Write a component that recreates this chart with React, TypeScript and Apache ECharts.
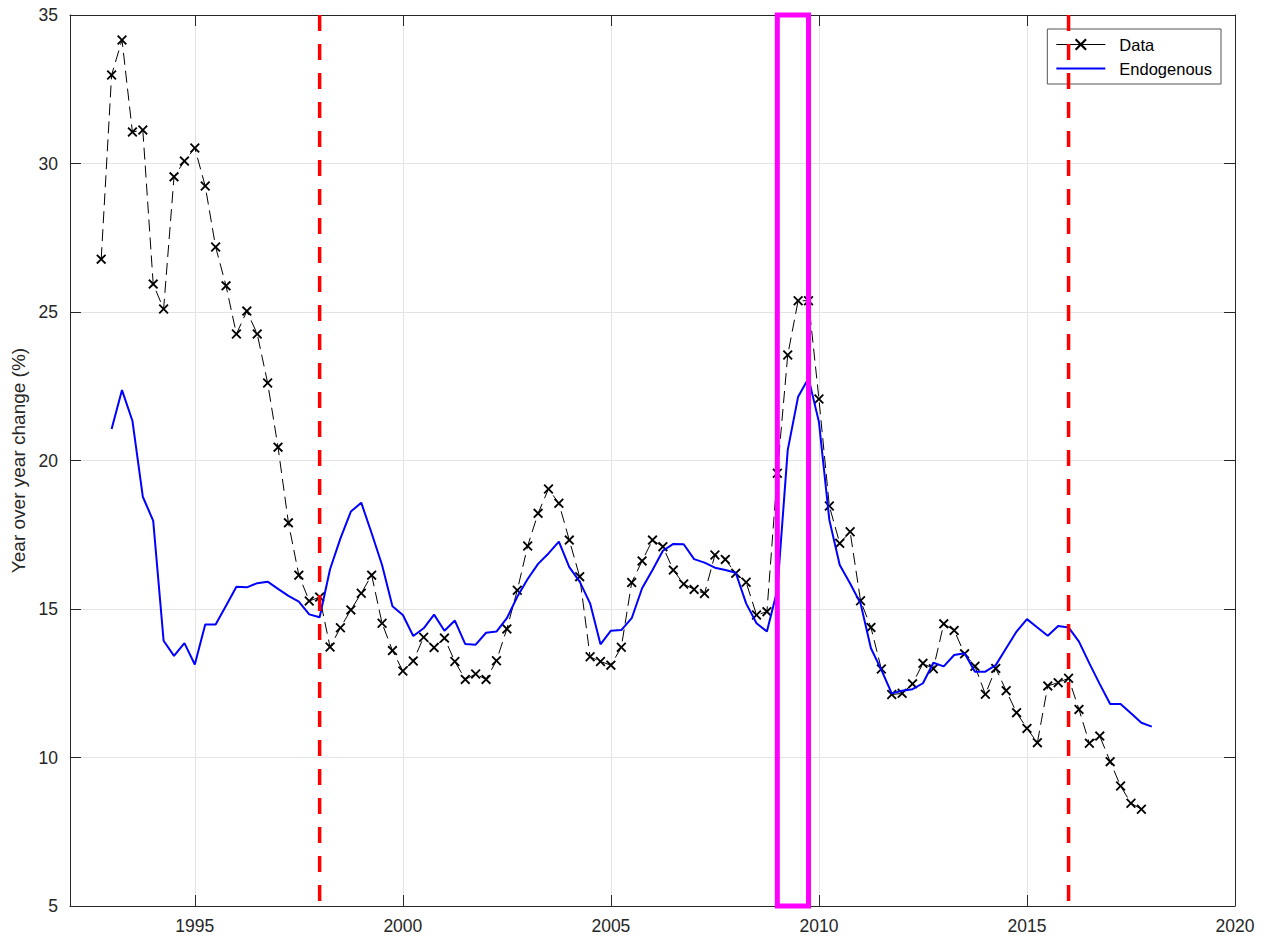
import React, { useEffect, useRef } from "react";
import * as echarts from "echarts";

// Quarterly observations
const dataStart = 1992.75;
const dataValues = [
  26.78, 32.98, 34.16, 31.06, 31.13, 25.94, 25.1, 29.55, 30.08, 30.52,
  29.24, 27.19, 25.88, 24.26, 25.03, 24.26, 22.61, 20.45, 17.9, 16.14,
  15.27, 15.4, 13.72, 14.37, 14.97, 15.53, 16.14, 14.52, 13.6, 12.91,
  13.25, 14.05, 13.7, 14.02, 13.23, 12.63, 12.81, 12.63, 13.26, 14.33,
  15.63, 17.12, 18.22, 19.04, 18.56, 17.32, 16.09, 13.39, 13.23, 13.11,
  13.71, 15.89, 16.62, 17.32, 17.1, 16.31, 15.84, 15.66, 15.52, 16.82,
  16.67, 16.2, 15.9, 14.8, 14.91, 19.57, 23.55, 25.38, 25.38, 22.07,
  18.47, 17.21, 17.6, 15.28, 14.38, 12.98, 12.12, 12.16, 12.48, 13.17,
  12.99, 14.5, 14.28, 13.49, 13.07, 12.13, 13.0, 12.25, 11.51, 10.98,
  10.5, 12.41, 12.52, 12.67, 11.62, 10.48, 10.72, 9.86, 9.04, 8.46,
  8.26,
];

const endoStart = 1993.0;
const endoValues = [
  21.06, 22.37, 21.34, 18.78, 17.97, 13.93, 13.42, 13.85, 13.13, 14.48,
  14.48, 15.11, 15.75, 15.73, 15.87, 15.92, 15.68, 15.44, 15.25, 14.82,
  14.72, 16.34, 17.38, 18.28, 18.58, 17.55, 16.48, 15.09, 14.8, 14.09,
  14.35, 14.81, 14.27, 14.61, 13.82, 13.8, 14.2, 14.24, 14.69, 15.41,
  16.01, 16.52, 16.87, 17.27, 16.41, 15.92, 15.19, 13.81, 14.27, 14.29,
  14.69, 15.7, 16.31, 16.96, 17.19, 17.18, 16.68, 16.56, 16.39, 16.31,
  16.22, 15.19, 14.52, 14.24, 15.64, 20.35, 22.15, 22.77, 21.3, 18.0,
  16.48, 15.86, 15.19, 13.68, 12.95, 12.16, 12.25, 12.3, 12.5, 13.19,
  13.07, 13.45, 13.51, 12.89, 12.89, 13.11, 13.68, 14.24, 14.66, 14.38,
  14.1, 14.43, 14.38, 13.9, 13.17, 12.47, 11.8, 11.8, 11.49, 11.17,
  11.04,
];

const xTicks = [1995, 2000, 2005, 2010, 2015, 2020];
const xMin = 1992;
const xMax = 2020;
const yMin = 5;
const yMax = 35;
const yInterval = 5;

const breakYears = [1998, 2016];
const crisisStart = 2009;
const crisisEnd = 2009.75;

const FONT = "'Liberation Sans', Arial, Helvetica, sans-serif";
const AXIS_COLOR = "#262626";
const GRID_COLOR = "#e4e4e4";
const X_MARK =
  "path://M0,1.3L1.3,0L5,3.7L8.7,0L10,1.3L6.3,5L10,8.7L8.7,10L5,6.3L1.3,10L0,8.7L3.7,5Z";

export default function App() {
  const ref = useRef<HTMLDivElement>(null);

  useEffect(() => {
    if (!ref.current) return;
    const chart = echarts.init(ref.current, undefined, { renderer: "svg" });

    const dataPts = dataValues.map((v, i) => [dataStart + i * 0.25, v]);
    const endoPts = endoValues.map((v, i) => [endoStart + i * 0.25, v]);

    const breakSeries = breakYears.map((yr, i) => ({
      name: "break" + i,
      type: "line",
      data: [
        [yr, yMax],
        [yr, yMin],
      ],
      symbol: "none",
      clip: false,
      z: 5,
      lineStyle: { color: "#ff0000", width: 3.5, type: [16, 13], cap: "butt" },
      silent: true,
    }));

    const option: any = {
      animation: false,
      textStyle: { fontFamily: FONT },
      grid: { left: 70, top: 15, width: 1165, height: 891, containLabel: false },
      legend: {
        data: [
          { name: "Data", lineStyle: { type: "solid", width: 1 } },
          { name: "Endogenous", itemStyle: { opacity: 0 } },
        ],
        orient: "vertical",
        right: 44,
        top: 29,
        padding: [7, 9, 7, 8],
        itemGap: 7,
        itemWidth: 49,
        itemHeight: 15,
        borderColor: "#555555",
        borderWidth: 1,
        borderRadius: 0,
        backgroundColor: "#ffffff",
        textStyle: {
          fontFamily: FONT,
          fontSize: 16.5,
          color: "#000000",
          padding: [0, 0, 0, 9],
        },
      },
      xAxis: [
        {
          type: "value",
          min: xMin,
          max: xMax,
          position: "bottom",
          axisLine: { show: true, onZero: false, lineStyle: { color: AXIS_COLOR, width: 1 } },
          axisTick: {
            show: true,
            inside: true,
            length: 11,
            customValues: xTicks,
            lineStyle: { color: AXIS_COLOR },
          },
          axisLabel: {
            show: true,
            customValues: xTicks,
            margin: 11,
            fontSize: 17.5,
            color: AXIS_COLOR,
            fontFamily: FONT,
            formatter: (v: number) => String(v),
          },
          splitLine: { show: true, lineStyle: { color: GRID_COLOR, width: 1 } },
        },
        {
          type: "value",
          min: xMin,
          max: xMax,
          position: "top",
          axisLine: { show: true, onZero: false, lineStyle: { color: AXIS_COLOR, width: 1 } },
          axisTick: {
            show: true,
            inside: true,
            length: 11,
            customValues: xTicks,
            lineStyle: { color: AXIS_COLOR },
          },
          axisLabel: { show: false, customValues: xTicks },
          splitLine: { show: false },
        },
      ],
      yAxis: [
        {
          type: "value",
          min: yMin,
          max: yMax,
          interval: yInterval,
          position: "left",
          name: "Year over year change (%)",
          nameLocation: "middle",
          nameGap: 37,
          nameTextStyle: { fontSize: 19, color: AXIS_COLOR, fontFamily: FONT },
          axisLine: { show: true, onZero: false, lineStyle: { color: AXIS_COLOR, width: 1 } },
          axisTick: { show: true, inside: true, length: 11, lineStyle: { color: AXIS_COLOR } },
          axisLabel: { margin: 12, fontSize: 17.5, color: AXIS_COLOR, fontFamily: FONT },
          splitLine: { show: true, lineStyle: { color: GRID_COLOR, width: 1 } },
        },
        {
          type: "value",
          min: yMin,
          max: yMax,
          interval: yInterval,
          position: "right",
          axisLine: { show: true, onZero: false, lineStyle: { color: AXIS_COLOR, width: 1 } },
          axisTick: { show: true, inside: true, length: 11, lineStyle: { color: AXIS_COLOR } },
          axisLabel: { show: false },
          splitLine: { show: false },
        },
      ],
      series: [
        {
          name: "Data",
          type: "line",
          data: dataPts,
          symbol: X_MARK,
          symbolSize: 10,
          showSymbol: true,
          z: 3,
          itemStyle: { color: "#000000" },
          lineStyle: { color: "#000000", width: 1, type: [12, 6] },
        },
        {
          name: "Endogenous",
          type: "line",
          data: endoPts,
          symbol: "none",
          showSymbol: false,
          z: 4,
          itemStyle: { color: "#0000ff" },
          lineStyle: { color: "#0000ff", width: 2 },
        },
        ...breakSeries,
        {
          name: "crisis",
          type: "line",
          data: [
            [crisisStart, yMin],
            [crisisStart, yMax],
            [crisisEnd, yMax],
            [crisisEnd, yMin],
            [crisisStart, yMin],
          ],
          symbol: "none",
          clip: false,
          z: 6,
          silent: true,
          lineStyle: { color: "#ff00ff", width: 5, join: "miter", cap: "square" },
        },
      ],
    };

    chart.setOption(option);
    return () => chart.dispose();
  }, []);

  return (
    <div
      ref={ref}
      style={{ position: "fixed", left: 0, top: 0, width: 1265, height: 937, background: "#fff" }}
    />
  );
}
